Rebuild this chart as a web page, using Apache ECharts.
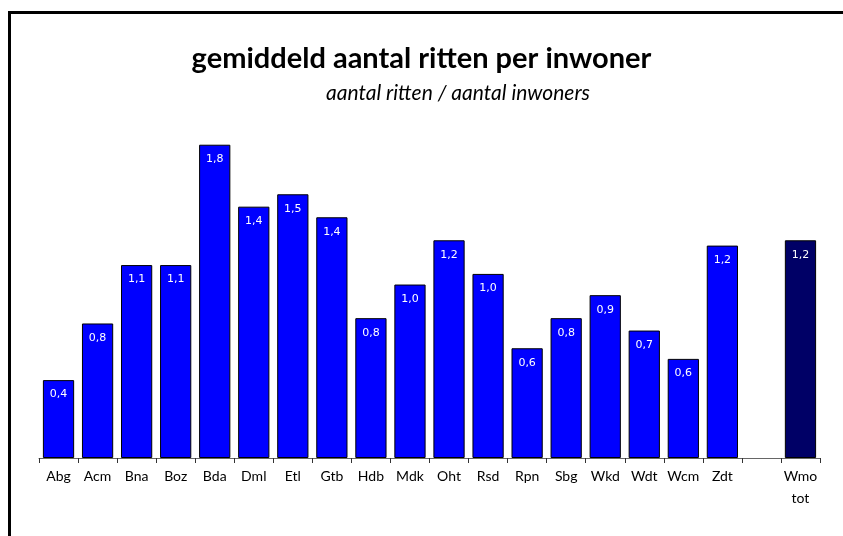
<!DOCTYPE html>
<html>
<head>
<meta charset="utf-8">
<script src="https://cdn.jsdelivr.net/npm/echarts@6/dist/echarts.min.js"></script>
<style>
  html, body { margin: 0; padding: 0; background: #fff; }
  #frame { position: absolute; left: 8px; top: 11px; width: 835px; height: 525px;
           border-top: 3px solid #000; border-left: 3px solid #000; box-sizing: border-box; }
  #chart { width: 843px; height: 536px; }
</style>
</head>
<body>
<div id="frame"></div>
<div id="chart"></div>
<script>
// gemeenten (lege plek voor het totaal)
const categories = ['Abg', 'Acm', 'Bna', 'Boz', 'Bda', 'Dml', 'Etl', 'Gtb', 'Hdb', 'Mdk',
  'Oht', 'Rsd', 'Rpn', 'Sbg', 'Wkd', 'Wdt', 'Wcm', 'Zdt', '', 'Wmo\ntot'];
// ritten per inwoner
const gemeenteValues = [0.44, 0.76, 1.09, 1.09, 1.77, 1.42, 1.49, 1.36, 0.79, 0.98,
  1.23, 1.04, 0.62, 0.79, 0.92, 0.72, 0.56, 1.20, null, null];
const totaalValues = [null, null, null, null, null, null, null, null, null, null,
  null, null, null, null, null, null, null, null, null, 1.23];

const myChart = echarts.init(document.getElementById('chart'));

const fmt = p => p.value == null ? '' : p.value.toFixed(1).replace('.', ',');
const label = {
  show: true,
  position: 'insideTop',
  distance: 9,
  color: '#fff',
  fontFamily: 'DejaVu Sans',
  fontSize: 11,
  formatter: fmt
};

const option = {
  animation: false,
  title: [
    {
      text: 'gemiddeld aantal ritten per inwoner',
      left: 'center',
      top: 39,
      textStyle: { fontFamily: 'Lato', fontWeight: 'bold', fontSize: 29, color: '#000' }
    },
    {
      text: 'aantal ritten / aantal inwoners',
      left: 321,
      top: 78,
      textStyle: { fontFamily: 'Lato', fontStyle: 'italic', fontWeight: 'normal', fontSize: 21, color: '#000' }
    }
  ],
  grid: { left: 39, right: 23, top: 104, bottom: 78 },
  xAxis: {
    type: 'category',
    data: categories,
    axisLine: { lineStyle: { color: '#666', width: 1 } },
    axisTick: { show: true, length: 5, lineStyle: { color: '#333' } },
    axisLabel: { color: '#000', fontFamily: 'Lato', fontSize: 14, margin: 7, lineHeight: 22, interval: 0 }
  },
  yAxis: {
    type: 'value',
    min: 0,
    max: 2,
    show: false,
    splitLine: { show: false }
  },
  series: [
    {
      type: 'bar',
      data: gemeenteValues,
      stack: 'a',
      barCategoryGap: '20%',
      itemStyle: { color: '#0000ff', borderColor: '#000', borderWidth: 1 },
      label: label
    },
    {
      type: 'bar',
      data: totaalValues,
      stack: 'a',
      barCategoryGap: '20%',
      itemStyle: { color: '#000066', borderColor: '#000', borderWidth: 1 },
      label: label
    }
  ]
};

myChart.setOption(option);
</script>
</body>
</html>
